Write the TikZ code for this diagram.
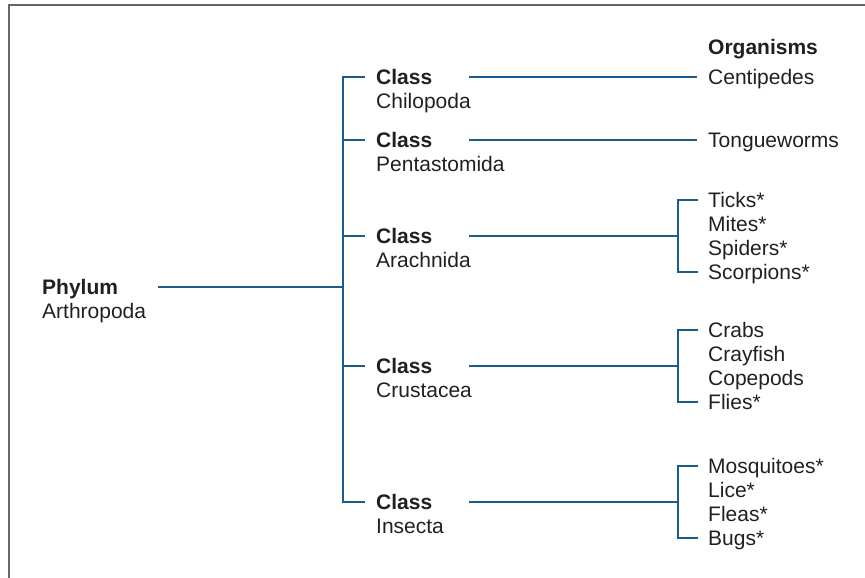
\documentclass[tikz,border=0pt]{standalone}
\usepackage{fontspec}
\setmainfont{Liberation Sans}
\definecolor{linkblue}{RGB}{28,92,140}
\definecolor{txt}{RGB}{35,31,32}
\definecolor{framegray}{RGB}{102,102,102}
\begin{document}
\begin{tikzpicture}[x=1pt,y=-1pt,
  lbl/.style={anchor=base west, inner sep=0pt, align=left, text=txt, font=\fontsize{21}{24}\selectfont},
  link/.style={draw=linkblue, line width=1.4pt},
  frameline/.style={draw=framegray, line width=2pt}]
\useasboundingbox (0,0) rectangle (865,578);
\draw[frameline] (9,578) -- (9,5) -- (865,5);

% nodes (base anchor = baseline of the last line)
\node[lbl] (phylum) at (42,318.5) {\textbf{Phylum}\\Arthropoda};
\node[lbl] (c1) at (376,108.5) {\textbf{Class}\\Chilopoda};
\node[lbl] (c2) at (376,171.5) {\textbf{Class}\\Pentastomida};
\node[lbl] (c3) at (376,267.5) {\textbf{Class}\\Arachnida};
\node[lbl] (c4) at (376,397.5) {\textbf{Class}\\Crustacea};
\node[lbl] (c5) at (376,533.5) {\textbf{Class}\\Insecta};

\node[lbl] (title) at (708,55) {\textbf{Organisms}};
\node[lbl] (centipedes) at (708,84.5) {Centipedes};
\node[lbl] (tongueworms) at (708,147.5) {Tongueworms};
\node[lbl] (ticks) at (708,207.5) {Ticks*};
\node[lbl] (mites) at (708,231.5) {Mites*};
\node[lbl] (spiders) at (708,255.5) {Spiders*};
\node[lbl] (scorpions) at (708,279.5) {Scorpions*};
\node[lbl] (crabs) at (708,337.5) {Crabs};
\node[lbl] (crayfish) at (708,361.5) {Crayfish};
\node[lbl] (copepods) at (708,385.5) {Copepods};
\node[lbl] (flies) at (708,409.5) {Flies*};
\node[lbl] (mosquitoes) at (708,473.5) {Mosquitoes*};
\node[lbl] (lice) at (708,497.5) {Lice*};
\node[lbl] (fleas) at (708,521.5) {Fleas*};
\node[lbl] (bugs) at (708,545.5) {Bugs*};

% junction coordinates
\coordinate (pj) at (158,287);
\coordinate (tp) at (343,287);
\coordinate (t1) at (343,77);
\coordinate (t2) at (343,140);
\coordinate (t3) at (343,236);
\coordinate (t4) at (343,366);
\coordinate (t5) at (343,502);
\coordinate (s1) at (365,77);
\coordinate (s2) at (365,140);
\coordinate (s3) at (365,236);
\coordinate (s4) at (365,366);
\coordinate (s5) at (365,502);
\coordinate (r1) at (469,77);
\coordinate (r2) at (469,140);
\coordinate (r3) at (469,236);
\coordinate (r4) at (469,366);
\coordinate (r5) at (469,502);
\coordinate (e1) at (697,77);
\coordinate (e2) at (697,140);
\coordinate (b3) at (678,236);
\coordinate (b4) at (678,366);
\coordinate (b5) at (678,502);

% phylum to classes
\draw[link] (pj) -- (tp);
\draw[link] (s1) -- (t1) -- (t5) -- (s5);
\draw[link] (t2) -- (s2);
\draw[link] (t3) -- (s3);
\draw[link] (t4) -- (s4);

% classes to organisms
\draw[link] (r1) -- (e1);
\draw[link] (r2) -- (e2);
\draw[link] (r3) -- (b3);
\draw[link] (r4) -- (b4);
\draw[link] (r5) -- (b5);

% brackets
\draw[link] ([shift={(-10pt,7.5pt)}]ticks.base west) -| (b3) |- ([shift={(-10pt,7.5pt)}]scorpions.base west);
\draw[link] ([shift={(-10pt,7.5pt)}]crabs.base west) -| (b4) |- ([shift={(-10pt,7.5pt)}]flies.base west);
\draw[link] ([shift={(-10pt,7.5pt)}]mosquitoes.base west) -| (b5) |- ([shift={(-10pt,7.5pt)}]bugs.base west);
\end{tikzpicture}
\end{document}
